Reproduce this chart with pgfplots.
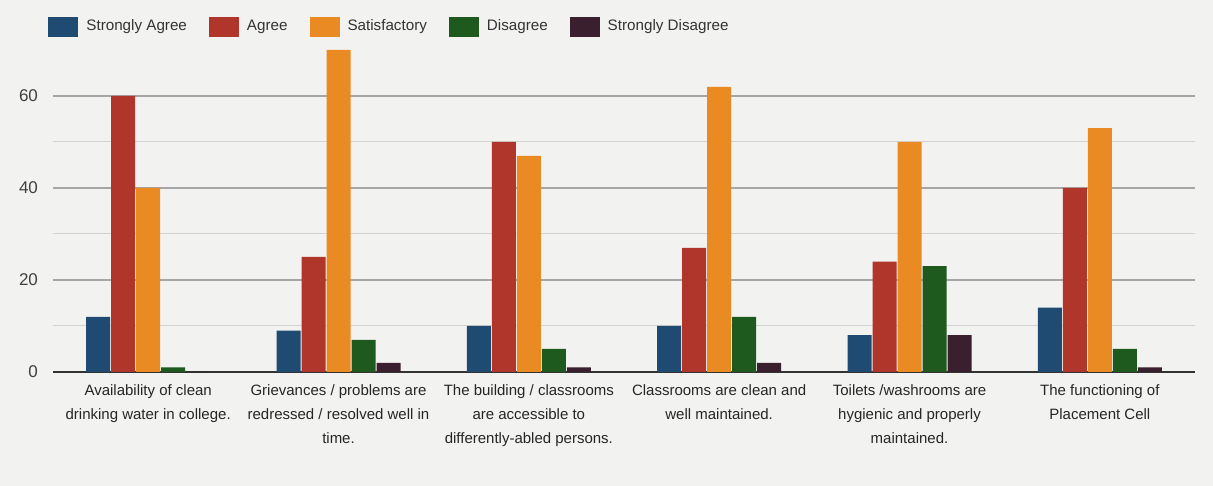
\documentclass[border=0pt]{standalone}
\usepackage{pgfplots}
\pgfplotsset{compat=1.18}
\usepackage{fontspec}
\setmainfont{Liberation Sans}
\definecolor{cSA}{HTML}{1F4A72}
\definecolor{cA}{HTML}{B0352A}
\definecolor{cS}{HTML}{EA8A22}
\definecolor{cD}{HTML}{1E5A1E}
\definecolor{cSD}{HTML}{3A1F2E}
\definecolor{bg}{HTML}{F2F2F0}
\pgfplotsset{sqleg/.style={legend image code/.code={\fill[##1,draw=none] (0pt,-5pt) rectangle (15pt,5pt);}}}
\begin{document}
\begin{tikzpicture}
\fill[bg] (-26.5pt,-57pt) rectangle (580pt,186pt);
\path[use as bounding box] (-26.5pt,-57pt) rectangle (580pt,186pt);
\begin{axis}[
  at={(0pt,0pt)}, anchor=south west,
  scale only axis, width=571pt, height=161pt,
  ybar=0.5pt, bar width=12pt,
  xmin=-0.5, xmax=5.5, ymin=0, ymax=70,
  xtick={0,1,2,3,4,5},
  xticklabels={
    {Availability of clean\\drinking water in college.},
    {Grievances / problems are\\redressed / resolved well in\\time.},
    {The building / classrooms\\are accessible to\\differently-abled persons.},
    {Classrooms are clean and\\well maintained.},
    {Toilets /washrooms are\\hygienic and properly\\maintained.},
    {The functioning of\\Placement Cell}},
  xticklabel style={align=center, font=\fontsize{7.5}{11.8}\selectfont, text=black!85, yshift=-3pt},
  ytick={0,20,40,60}, minor ytick={10,30,50},
  /pgf/number format/assume math mode=true,
  yticklabel style={font=\fontsize{8.5}{10}\selectfont, text=black!75, xshift=-4pt},
  ymajorgrids, yminorgrids,
  major grid style={gray!70, line width=0.6pt},
  minor grid style={gray!35, line width=0.5pt},
  axis x line*=bottom, axis y line*=left,
  x axis line style={black!80, line width=0.9pt, -},
  y axis line style={draw=none},
  major tick length=0pt, minor tick length=0pt,
  legend columns=5,
  legend style={at={(0,1)}, anchor=south west, xshift=-5.5pt, yshift=4pt,
    draw=none, fill=none, font=\fontsize{7.6}{10}\selectfont, text=black!80,
    /tikz/every odd column/.append style={column sep=2pt},
    /tikz/every even column/.append style={column sep=9pt}},
]
\addplot[fill=cSA, draw=none, sqleg] coordinates {(0,12)(1,9)(2,10)(3,10)(4,8)(5,14)};
\addplot[fill=cA, draw=none, sqleg] coordinates {(0,60)(1,25)(2,50)(3,27)(4,24)(5,40)};
\addplot[fill=cS, draw=none, sqleg] coordinates {(0,40)(1,70)(2,47)(3,62)(4,50)(5,53)};
\addplot[fill=cD, draw=none, sqleg] coordinates {(0,1)(1,7)(2,5)(3,12)(4,23)(5,5)};
\addplot[fill=cSD, draw=none, sqleg] coordinates {(0,0)(1,2)(2,1)(3,2)(4,8)(5,1)};
\legend{Strongly Agree, Agree, Satisfactory, Disagree, Strongly Disagree}
\end{axis}
\end{tikzpicture}
\end{document}
